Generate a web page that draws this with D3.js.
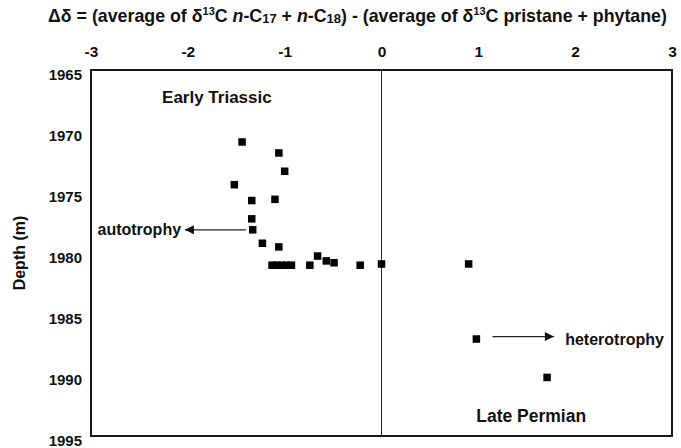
<!DOCTYPE html>
<html>
<head>
<meta charset="utf-8">
<script src="https://cdn.jsdelivr.net/npm/d3@7/dist/d3.min.js"></script>
<style>
  body { margin: 0; background: #fff; }
  svg { display: block; }
  text { font-family: "Liberation Sans", Arial, sans-serif; font-weight: bold; fill: #111; }
</style>
</head>
<body>
<svg id="chart" width="681" height="448"></svg>
<script>
// Data
const deltaValues = [-1.44, -1.06, -1.00, -1.52, -1.34, -1.10, -1.34, -1.33, -1.23, -1.06,
                     -1.13, -1.08, -1.03, -0.98, -0.93,
                     -0.74, -0.66, -0.57, -0.49, -0.22, 0.00, 0.90, 0.98, 1.71];
const depthValues = [1970.9, 1971.8, 1973.3, 1974.4, 1975.7, 1975.6, 1977.2, 1978.1, 1979.2, 1979.5,
                     1981.0, 1981.0, 1981.0, 1981.0, 1981.0,
                     1981.0, 1980.25, 1980.65, 1980.8, 1981.0, 1980.9, 1980.9, 1987.05, 1990.2];
const xTicks = [-3, -2, -1, 0, 1, 2, 3];
const yTicks = [1965, 1970, 1975, 1980, 1985, 1990, 1995];

const svg = d3.select("#chart");
const margin = {left: 91, right: 9, top: 70, bottom: 12};
const W = 681, H = 448;
const x = d3.scaleLinear().domain([-3, 3]).range([margin.left, W - margin.right]);
const y = d3.scaleLinear().domain([1965, 1995]).range([margin.top, H - margin.bottom]);

const styleText = sel => sel.style("font-size", "15.5px")
  .style("font-family", "'Liberation Sans', Arial, sans-serif")
  .style("font-weight", "bold").attr("fill", "#111");

// Top axis labels
const xAxis = d3.axisTop(x).tickValues(xTicks).tickSize(0).tickPadding(0).tickFormat(d => String(d));
const gx = svg.append("g").attr("transform", `translate(0,${margin.top - 13})`).call(xAxis);
gx.select(".domain").remove();
gx.selectAll("text").call(styleText);

// Left axis labels
const yAxis = d3.axisLeft(y).tickValues(yTicks).tickSize(0).tickPadding(0).tickFormat(d => String(d));
const gy = svg.append("g").attr("transform", `translate(${margin.left - 9},5)`).call(yAxis);
gy.select(".domain").remove();
gy.selectAll("text").call(styleText).style("font-size", "15px");

// Frame
svg.append("rect")
  .attr("x", x(-3)).attr("y", y(1965))
  .attr("width", x(3) - x(-3)).attr("height", y(1995) - y(1965))
  .attr("fill", "none").attr("stroke", "#1a1a1a").attr("stroke-width", 2);

// Zero line
svg.append("line")
  .attr("x1", x(0)).attr("x2", x(0)).attr("y1", y(1965)).attr("y2", y(1995))
  .attr("stroke", "#222").attr("stroke-width", 1);

// Points
const s = 7.5;
svg.append("g").selectAll("rect").data(deltaValues.map((d, i) => [d, depthValues[i]]))
  .join("rect")
  .attr("x", d => x(d[0]) - s / 2).attr("y", d => y(d[1]) - s / 2)
  .attr("width", s).attr("height", s).attr("fill", "#000");

// Arrow markers
const defs = svg.append("defs");
defs.append("marker").attr("id", "ah").attr("viewBox", "0 0 10 10")
  .attr("refX", 10).attr("refY", 5).attr("markerWidth", 12).attr("markerHeight", 9)
  .attr("markerUnits", "userSpaceOnUse").attr("orient", "auto")
  .append("path").attr("d", "M0,0 L10,5 L0,10 Z").attr("fill", "#111");

// autotrophy arrow
svg.append("line")
  .attr("x1", x(-1.4)).attr("x2", x(-2.03)).attr("y1", y(1978.1)).attr("y2", y(1978.1))
  .attr("stroke", "#222").attr("stroke-width", 1.2).attr("marker-end", "url(#ah)");
svg.append("text").attr("x", x(-2.07)).attr("y", y(1978.1) + 5.5)
  .attr("text-anchor", "end").style("font-size", "16px").text("autotrophy");

// heterotrophy arrow
svg.append("line")
  .attr("x1", x(1.146)).attr("x2", x(1.78)).attr("y1", y(1986.85)).attr("y2", y(1986.85))
  .attr("stroke", "#222").attr("stroke-width", 1.2).attr("marker-end", "url(#ah)");
svg.append("text").attr("x", x(1.897)).attr("y", y(1986.85) + 8)
  .attr("text-anchor", "start").style("font-size", "16px").text("heterotrophy");

// Period labels
svg.append("text").attr("x", x(-1.7)).attr("y", y(1967.2) + 6)
  .attr("text-anchor", "middle").style("font-size", "17px").text("Early Triassic");
svg.append("text").attr("x", x(1.546)).attr("y", y(1993.4) + 6)
  .attr("text-anchor", "middle").style("font-size", "17.5px").text("Late Permian");

// Y axis title
svg.append("text").attr("transform", `translate(25,${(y(1965) + y(1995)) / 2}) rotate(-90)`)
  .attr("text-anchor", "middle").style("font-size", "16px").text("Depth (m)");

// Title
const t = svg.append("text").attr("x", 357.5).attr("y", 22)
  .attr("text-anchor", "middle").style("font-size", "17.8px");
t.append("tspan").text("Δδ = (average of δ");
t.append("tspan").attr("dy", -7).style("font-size", "11px").text("13");
t.append("tspan").attr("dy", 7).text("C ");
t.append("tspan").style("font-style", "italic").text("n");
t.append("tspan").text("-C");
t.append("tspan").attr("dy", 1).style("font-size", "13px").text("17");
t.append("tspan").attr("dy", -1).text(" + ");
t.append("tspan").style("font-style", "italic").text("n");
t.append("tspan").text("-C");
t.append("tspan").attr("dy", 1).style("font-size", "13px").text("18");
t.append("tspan").attr("dy", -1).text(") - (average of δ");
t.append("tspan").attr("dy", -7).style("font-size", "11px").text("13");
t.append("tspan").attr("dy", 7).text("C pristane + phytane)");
</script>
</body>
</html>
